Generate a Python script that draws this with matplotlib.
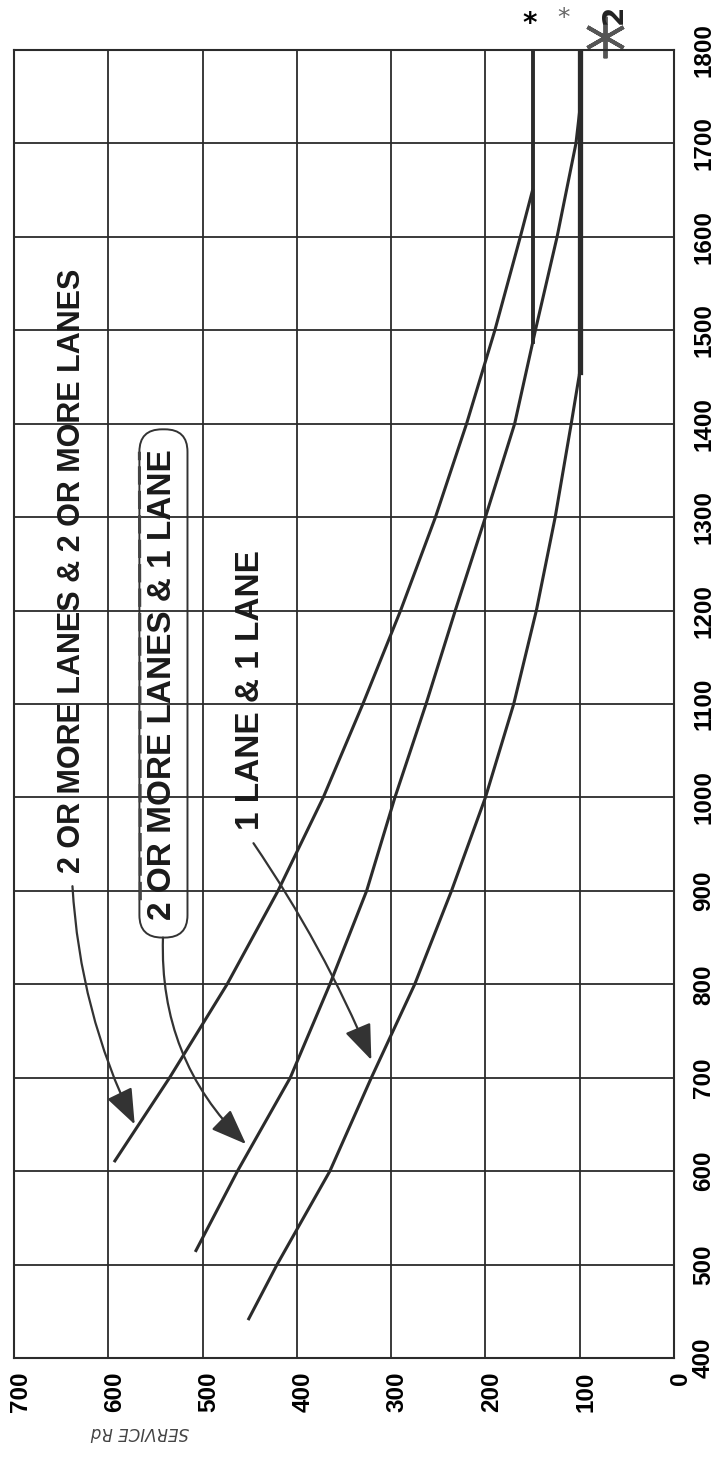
import matplotlib
matplotlib.use("Agg")
import matplotlib.pyplot as plt
from matplotlib.patches import FancyBboxPatch
from matplotlib.transforms import ScaledTranslation

# Kapasite egrileri (akis -> servis)
flow_22 = [611, 700, 800, 900, 1000, 1100, 1200, 1300, 1400, 1500, 1600, 1650]
serv_22 = [593, 535, 474, 420, 372, 330, 290, 253, 220, 190, 163, 150]

flow_21 = [515, 600, 700, 800, 900, 1000, 1100, 1200, 1300, 1400, 1500, 1600, 1700, 1735]
serv_21 = [507, 463, 407, 365, 326, 296, 263, 232, 200, 169, 147, 124, 104, 100]

flow_11 = [442, 500, 600, 700, 800, 900, 1000, 1100, 1200, 1300, 1400, 1455]
serv_11 = [451, 421, 365, 321, 275, 236, 200, 170, 146, 126, 109, 100]

# alt sinir cizgileri
floor_150_flow = [1487, 1800]
floor_150_serv = [150, 150]
floor_100_flow = [1455, 1800]
floor_100_serv = [100, 100]

serv_ticks = [700, 600, 500, 400, 300, 200, 100, 0]
flow_ticks = list(range(400, 1801, 100))

labels = ["2 OR MORE LANES & 2 OR MORE LANES", "2 OR MORE LANES & 1 LANE", "1 LANE & 1 LANE"]

ink = "#2b2b2b"
W, H = 724, 1457

fig = plt.figure(figsize=(W / 100, H / 100), dpi=100)
ax = fig.add_axes([14 / W, 1 - 1358 / H, 660 / W, 1308 / H])

# grafik 90 derece dondurulmus: yatay = servis, dikey = akis
ax.set_xlim(700, 0)
ax.set_ylim(400, 1800)
ax.set_xticks(serv_ticks)
ax.set_yticks(flow_ticks)
ax.grid(True, color=ink, lw=1.3)
for s in ax.spines.values():
    s.set_color(ink)
    s.set_linewidth(1.5)

ax.yaxis.tick_right()
ax.tick_params(length=0)
ax.tick_params(axis="x", pad=10)
ax.tick_params(axis="y", pad=13)
ax.set_xticklabels([str(v) for v in serv_ticks], rotation=90, fontsize=17.5,
                   fontweight="bold", family="Liberation Sans", va="top")
ax.set_yticklabels([str(v) for v in flow_ticks], rotation=90, fontsize=17.5,
                   fontweight="bold", family="Liberation Sans", va="center", ha="left")
shift = ScaledTranslation(6 / 100, 0, fig.dpi_scale_trans)
for lab in ax.get_xticklabels():
    lab.set_transform(lab.get_transform() + shift)

ax.plot(serv_22, flow_22, color=ink, lw=2.2)
ax.plot(serv_21, flow_21, color=ink, lw=2.2)
ax.plot(serv_11, flow_11, color=ink, lw=2.2)
ax.plot(floor_150_serv, floor_150_flow, color=ink, lw=2.8)
ax.plot(floor_100_serv, floor_100_flow, color=ink, lw=3.8)

# etiketler
txt = dict(rotation=90, fontweight="bold", family="Liberation Sans",
           color="#1a1a1a", ha="center", va="center")
ax.text(639, 1243, labels[0], fontsize=22, **txt)
ax.text(543, 1121, labels[1], fontsize=24, **txt)
ax.text(449, 1115, labels[2], fontsize=24, **txt)

# elle cizilmis cerceve
box = FancyBboxPatch((516, 850), 51, 544, boxstyle="round,pad=0,rounding_size=24",
                     fc="none", ec="#333333", lw=1.4)
ax.add_patch(box)
ax.plot([566, 567], [890, 1370], color="#444444", lw=2.2, ls=(0, (6, 2)))

arr = dict(arrowstyle="-|>,head_length=2.2,head_width=0.85", color="#333333", lw=1.6,
           shrinkA=0, shrinkB=0)
ax.annotate("", xy=(572, 650), xytext=(638, 905),
            arrowprops=dict(connectionstyle="arc3,rad=0.1", **arr))
ax.annotate("", xy=(454, 629), xytext=(542, 850),
            arrowprops=dict(connectionstyle="arc3,rad=0.22", **arr))
ax.annotate("", xy=(321, 719), xytext=(446, 951),
            arrowprops=dict(connectionstyle="arc3,rad=-0.05", **arr))

# ust kisimdaki isaretler
ax.plot([73], [1814], marker=(6, 2, 0), markersize=30, color="#555555", mew=2.8, clip_on=False)
fig.text(530 / W, 1 - 24 / H, "*", fontsize=20, fontweight="bold", ha="center", va="center")
fig.text(564 / W, 1 - 18 / H, "*", fontsize=18, color="#666666", ha="center", va="center")
fig.text(614 / W, 1 - 14 / H, "2", fontsize=20, fontweight="bold", rotation=90,
         ha="center", va="center", color="#222222")

fig.text(140 / W, 1 - 1432 / H, "SERVICE Rd", rotation=180, fontsize=12,
         style="italic", color="#444444", ha="center", va="center")

fig.savefig("out.png", dpi=100)
